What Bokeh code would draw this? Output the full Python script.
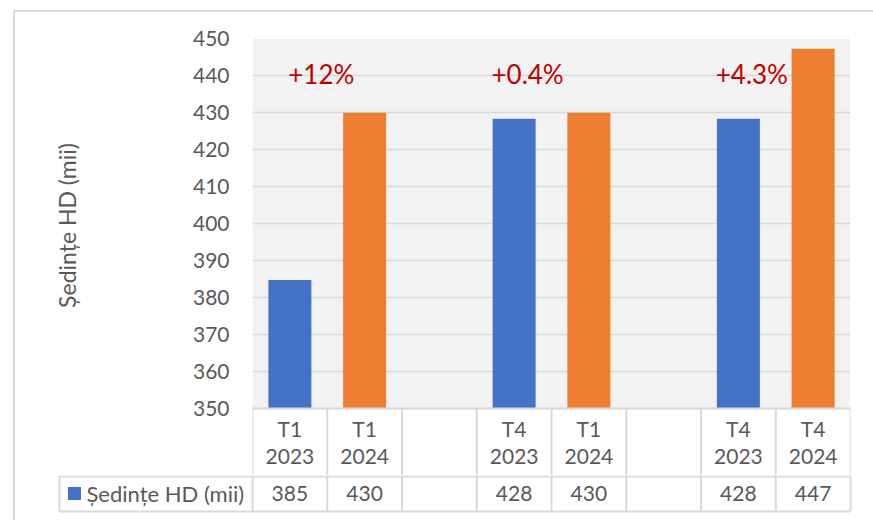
import numpy as np
from bokeh.plotting import figure
from bokeh.models import Range1d, FixedTicker, Column, Row, ColumnDataSource
from bokeh.core.properties import value
from bokeh.embed import file_html
from bokeh.resources import INLINE

# ---- data ----
quarters = ["T1", "T1", "", "T4", "T1", "", "T4", "T4"]
years = ["2023", "2024", "", "2023", "2024", "", "2023", "2024"]
values = [384.7, 429.9, np.nan, 428.3, 429.9, np.nan, 428.3, 447.2]
bar_colors = ["#4472C4", "#ED7D31", "#4472C4", "#4472C4", "#ED7D31", "#4472C4", "#4472C4", "#ED7D31"]
series_name = "Ședințe HD (mii)"
y_ticks = [350, 360, 370, 380, 390, 400, 410, 420, 430, 440, 450]
ann_text = ["+12%", "+0.4%", "+4.3%"]
ann_x = [0.92, 3.68, 6.68]
ann_y = [440.5, 440.5, 440.5]

FONT = value("Lato")
TXT = "#595959"
GRID = "#d9d9d9"

n = len(quarters)
xs = np.arange(n) + 0.5
value_labels = ["" if np.isnan(v) else f"{round(v)}" for v in values]
y0, y1 = y_ticks[0], y_ticks[-1]

W = 858           # total width of the figures
LW = 75           # width of the y-axis title strip
PX = 3.7          # pixels per value unit in the chart
TOP = 26
CHART_H = 370     # plot-area height in px (350..450)
CAT_H = 67        # category row height in px
VAL_H = 37        # value row height in px
H1 = TOP + CHART_H + CAT_H

# ---- y-axis title strip ----
pl = figure(width=LW, height=H1, output_backend="svg", toolbar_location=None,
            x_range=Range1d(0, LW), y_range=Range1d(CHART_H + CAT_H, 0),
            min_border_left=0, min_border_right=0, min_border_top=TOP, min_border_bottom=0,
            x_axis_location=None, y_axis_location=None)
pl.outline_line_color = None
pl.grid.visible = False
pl.background_fill_color = "white"
pl.border_fill_color = "white"
pl.text(x=[51], y=[187], text=[series_name], angle=np.pi / 2, text_font=FONT, text_font_size="23px",
        text_color=TXT, text_align="center", text_baseline="middle")

# ---- chart figure (plot area + category row of the data table) ----
p1 = figure(width=W - LW, height=H1, output_backend="svg", toolbar_location=None,
            x_range=Range1d(0, n), y_range=Range1d(y0 - CAT_H / PX, y1),
            min_border_left=237 - LW, min_border_right=W - 835, min_border_top=TOP, min_border_bottom=0)
p1.extra_y_ranges = {"table": Range1d(CAT_H, -CHART_H)}
p1.background_fill_color = "white"
p1.border_fill_color = "white"
p1.outline_line_color = None
p1.xaxis.visible = False
p1.xgrid.visible = False
p1.ygrid.grid_line_color = GRID
p1.ygrid.grid_line_width = 1.5
p1.yaxis.ticker = FixedTicker(ticks=y_ticks)
p1.yaxis.axis_line_color = None
p1.yaxis.major_tick_line_color = None
p1.yaxis.minor_tick_line_color = None
p1.yaxis.major_tick_out = 0
p1.yaxis.major_tick_in = 0
p1.yaxis.major_label_standoff = 23
p1.yaxis.major_label_text_font = "Lato"
p1.yaxis.major_label_text_font_size = "21px"
p1.yaxis.major_label_text_color = TXT

# plot-area background
p1.quad(left=[0], right=[n], bottom=[y0], top=[y1], fill_color="#f2f2f2", line_color=None, level="image")

src = ColumnDataSource(dict(x=xs, top=values, color=bar_colors))
p1.vbar(x="x", top="top", bottom=y0, width=0.575, fill_color="color", line_color=None, source=src)
p1.text(x=ann_x, y=ann_y, text=ann_text, text_font=FONT, text_font_size="26px",
        text_color="#C00000", text_align="center", text_baseline="middle")

# category row of the data table
vx = list(range(n + 1))
p1.segment(x0=vx, y0=[0] * len(vx), x1=vx, y1=[CAT_H] * len(vx), line_color=GRID, line_width=2,
           y_range_name="table")
p1.segment(x0=[0], y0=[0], x1=[n], y1=[0], line_color=GRID, line_width=2, y_range_name="table")
p1.text(x=xs, y=[20] * n, text=quarters, text_font=FONT, text_font_size="21px", text_color=TXT,
        text_align="center", text_baseline="middle", y_range_name="table")
p1.text(x=xs, y=[48] * n, text=years, text_font=FONT, text_font_size="21px", text_color=TXT,
        text_align="center", text_baseline="middle", y_range_name="table")

# ---- value row of the data table (with legend key) ----
unit = 74.75
left_px = 252 - 57
p2 = figure(width=W, height=45, output_backend="svg", toolbar_location=None,
            x_range=Range1d(-left_px / unit, n + 2 / unit), y_range=Range1d(CAT_H + 45, CAT_H),
            min_border_left=42, min_border_right=W - 837, min_border_top=0, min_border_bottom=0,
            x_axis_location=None, y_axis_location=None)
p2.outline_line_color = None
p2.grid.visible = False
p2.background_fill_color = "white"
p2.border_fill_color = "white"

xl = -(252 - 59) / unit
row_mid, row_bot = CAT_H + 1, CAT_H + VAL_H - 1
p2.segment(x0=[xl, xl], y0=[row_mid, row_bot], x1=[n, n], y1=[row_mid, row_bot],
           line_color=GRID, line_width=2)
p2.segment(x0=vx + [xl], y0=[CAT_H] * (len(vx) + 1), x1=vx + [xl], y1=[row_bot] * (len(vx) + 1),
           line_color=GRID, line_width=2)

p2.text(x=xs, y=[CAT_H + 18] * n, text=value_labels, text_font=FONT, text_font_size="21px", text_color=TXT,
        text_align="center", text_baseline="middle")
p2.scatter(x=[(74 - 252) / unit], y=[CAT_H + 18], marker="square", size=13, fill_color=bar_colors[0],
           line_color=None)
p2.text(x=[(86 - 252) / unit], y=[CAT_H + 18], text=[series_name], text_font=FONT, text_font_size="22px",
        text_color=TXT, text_align="left", text_baseline="middle")

layout = Column(children=[Row(children=[pl, p1], spacing=0), Row(children=[p2])], spacing=0,
                styles={"margin-left": "13px", "margin-top": "10px",
                        "border-left": "2px solid #d9d9d9", "border-top": "2px solid #d9d9d9"})

open("out.html", "w").write(file_html(layout, INLINE))
